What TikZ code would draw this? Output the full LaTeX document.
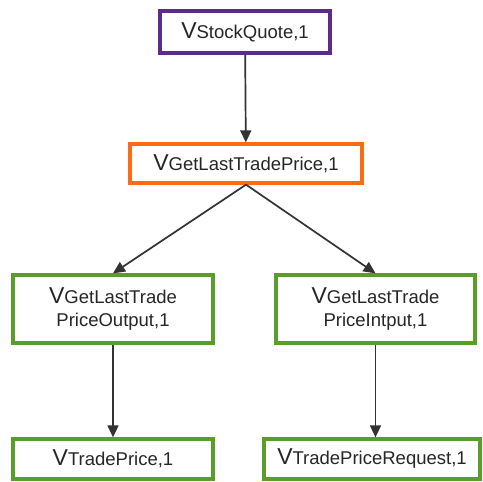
\documentclass[tikz,border=0pt]{standalone}
\usepackage{fontspec}
\setmainfont{Liberation Sans}
\usetikzlibrary{arrows.meta}
\definecolor{vpurple}{HTML}{5B2C8A}
\definecolor{vorange}{HTML}{FF6A13}
\definecolor{vgreen}{HTML}{5A9E2A}
\definecolor{vline}{HTML}{333333}
\newcommand{\bigV}{{\fontsize{23}{23}\selectfont V}}
\tikzset{
  x=1pt, y=-1pt,
  box/.style={draw, line width=3.3pt, fill=white, rectangle, inner sep=0pt,
    align=center, font=\fontsize{18.5}{23}\selectfont, text=black!85},
  link/.style={draw=vline, line width=1.7pt, -{Triangle[length=12pt,width=11pt]}}
}
\begin{document}
\begin{tikzpicture}
\useasboundingbox (0,0) rectangle (483,482);
\node[box, draw=vpurple, minimum width=170pt, minimum height=42pt] (stock) at (245,32) {\bigV StockQuote,1};
\node[box, draw=vorange, minimum width=232pt, minimum height=39pt] (price) at (246,163.5) {\bigV GetLastTradePrice,1};
\node[box, draw=vgreen, minimum width=200pt, minimum height=68pt] (out) at (113,309) {\bigV GetLastTrade\\PriceOutput,1};
\node[box, draw=vgreen, minimum width=199pt, minimum height=68pt] (in) at (375.5,309) {\bigV GetLastTrade\\PriceIntput,1};
\node[box, draw=vgreen, minimum width=200pt, minimum height=40pt] (tp) at (113,459) {\bigV TradePrice,1};
\node[box, draw=vgreen, minimum width=216pt, minimum height=40pt] (tpr) at (372,459) {\bigV TradePriceRequest,1};
\draw[link] (stock) -- (price);
\draw[link] (price.south) -- (out.north);
\draw[link] (price.south) -- (in.north);
\draw[link] (out) -- (tp);
\draw[link] (in.south) -- (in.south |- tpr.north);
\end{tikzpicture}
\end{document}
